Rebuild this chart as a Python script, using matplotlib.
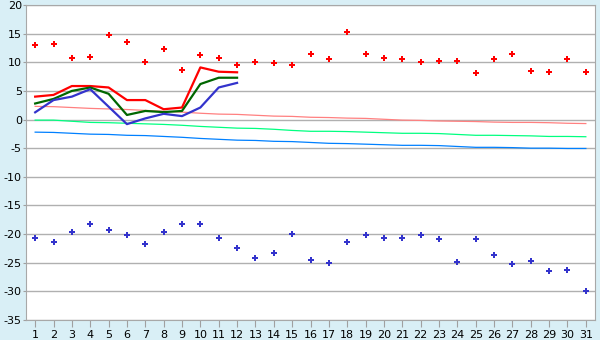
import matplotlib
matplotlib.use("Agg")
import matplotlib.pyplot as plt

plt.rcParams['axes.unicode_minus'] = False

## Days of the month
days = list(range(1, 32))
days_obs = list(range(1, 13))

## Record highs and lows (markers)
record_max = [13.0, 13.2, 10.7, 11.0, 14.7, 13.5, 10.0, 12.3, 8.6, 11.2,
              10.7, 9.5, 10.0, 9.8, 9.5, 11.4, 10.5, 15.2, 11.4, 10.7,
              10.5, 10.0, 10.2, 10.2, 8.1, 10.5, 11.4, 8.4, 8.25, 10.5, 8.25]
record_min = [-20.6, -21.4, -19.7, -18.3, -19.35, -20.2, -21.8, -19.7, -18.3, -18.3,
              -20.7, -22.5, -24.2, -23.35, -20.0, -24.6, -25.1, -21.4, -20.2, -20.7,
              -20.7, -20.2, -20.9, -24.9, -20.9, -23.7, -25.3, -24.75, -26.5, -26.3, -30.0]

## Observed values (first 12 days)
obs_max = [4.0, 4.3, 5.85, 5.85, 5.6, 3.4, 3.4, 1.8, 2.1, 9.1, 8.35, 8.25]
obs_mean = [2.8, 3.6, 5.0, 5.6, 4.5, 0.8, 1.5, 1.3, 1.5, 6.2, 7.3, 7.3]
obs_min = [1.26, 3.4, 4.0, 5.3, 2.25, -0.8, 0.2, 1.0, 0.6, 2.1, 5.6, 6.4]

## Normal values
norm_max = [2.3, 2.25, 2.1, 1.95, 1.85, 1.75, 1.6, 1.45, 1.3, 1.1,
            0.95, 0.9, 0.75, 0.6, 0.55, 0.4, 0.35, 0.25, 0.2, 0.05,
            -0.1, -0.15, -0.25, -0.3, -0.35, -0.45, -0.5, -0.5, -0.55, -0.65, -0.7]
norm_mean = [-0.1, -0.1, -0.3, -0.5, -0.55, -0.65, -0.75, -0.85, -1.0, -1.2,
             -1.35, -1.5, -1.55, -1.7, -1.9, -2.05, -2.05, -2.1, -2.2, -2.3,
             -2.4, -2.4, -2.45, -2.6, -2.75, -2.75, -2.8, -2.85, -2.95, -2.95, -3.0]
norm_min = [-2.2, -2.25, -2.4, -2.55, -2.6, -2.75, -2.8, -2.95, -3.1, -3.3,
            -3.45, -3.6, -3.65, -3.8, -3.85, -4.0, -4.15, -4.2, -4.3, -4.4,
            -4.5, -4.5, -4.55, -4.7, -4.85, -4.85, -4.9, -5.0, -5.0, -5.05, -5.05]

fig = plt.figure(figsize=(6, 3.4), dpi=100, facecolor="#D9EFF6")
ax = fig.add_axes([0.0433, 0.0588, 0.9484, 0.9265])
ax.set_facecolor("white")

# normals
ax.plot(days, norm_max, color="#FF8080", lw=0.9)
ax.plot(days, norm_mean, color="#00FF80", lw=0.9)
ax.plot(days, norm_min, color="#0080FF", lw=0.9)

# observed
ax.plot(days_obs, obs_max, color="#FF0000", lw=1.6)
ax.plot(days_obs, obs_mean, color="#006600", lw=1.6)
ax.plot(days_obs, obs_min, color="#3333CC", lw=1.6)

# records
ax.plot(days, record_max, linestyle="none", marker="P", markersize=4.2,
        color="#FF0000", markeredgewidth=0)
ax.plot(days, record_min, linestyle="none", marker="P", markersize=4.2,
        color="#3333CC", markeredgewidth=0)

ax.set_xlim(0.5, 31.5)
ax.set_ylim(-35, 20)
ax.set_xticks(days)
ax.set_yticks(range(-35, 21, 5))
ax.yaxis.grid(True, color="#B0B0B0", lw=1)
ax.set_axisbelow(True)
ax.tick_params(axis="x", length=5, color="#A0A0A0", labelsize=8, pad=2)
ax.tick_params(axis="y", length=2, color="#A0A0A0", labelsize=8, pad=1)
for s in ax.spines.values():
    s.set_color("#A8A8A8")

plt.savefig("out.png", dpi=100, facecolor=fig.get_facecolor())
